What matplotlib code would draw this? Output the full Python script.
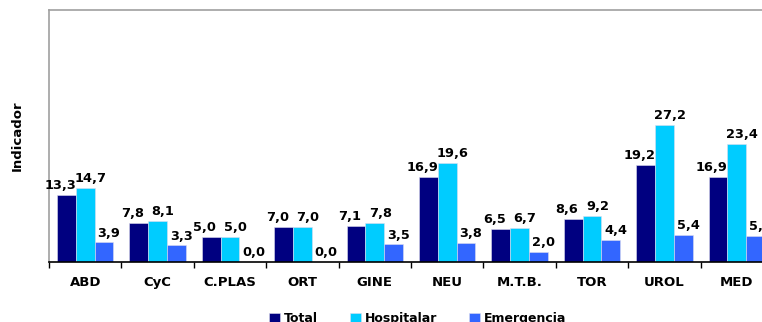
import matplotlib.pyplot as plt
import numpy as np

# Data
categories = ['ABD', 'CyC', 'C.PLAS', 'ORT', 'GINE', 'NEU', 'M.T.B.', 'TOR', 'UROL', 'MED']
total = [13.3, 7.8, 5.0, 7.0, 7.1, 16.9, 6.5, 8.6, 19.2, 16.9]
hospitalar = [14.7, 8.1, 5.0, 7.0, 7.8, 19.6, 6.7, 9.2, 27.2, 23.4]
emergencia = [3.9, 3.3, 0.0, 0.0, 3.5, 3.8, 2.0, 4.4, 5.4, 5.2]

# name, values, colour, horizontal nudge of the value label (points)
series = [('Total', total, '#000080', -4.5),
          ('Hospitalar', hospitalar, '#00CCFF', 4.0),
          ('Emergencia', emergencia, '#3366FF', 3.5)]

plt.rcParams['font.family'] = ['DejaVu Sans']

fig = plt.figure(figsize=(7.62, 3.22), dpi=100)
# the chart is cropped on the right in the original, so the axes run past the edge
ax = fig.add_axes([49 / 762, 1 - 262 / 322, 724 / 762, 252 / 322])

x = np.arange(len(categories))
w = 0.26
for i, (name, vals, col, dx) in enumerate(series):
    pos = x + (i - 1) * w
    ax.bar(pos, vals, w, color=col, label=name, edgecolor='#DDDDEE', linewidth=0.4)
    for xp, v in zip(pos, vals):
        ax.annotate(f'{v:.1f}'.replace('.', ','), (xp, v), xytext=(dx, 2),
                    textcoords='offset points', ha='center', va='bottom',
                    fontsize=9.3, fontweight='bold', color='black')

ax.set_xlim(-0.5, len(categories) - 0.5)
ax.set_ylim(0, 50)
ax.set_yticks([])

ax.set_xticks(x)
ax.set_xticklabels(categories, fontsize=9.5, fontweight='bold')
ax.tick_params(axis='x', which='major', length=0, pad=10)
ax.set_xticks(np.arange(len(categories) + 1) - 0.5, minor=True)
ax.tick_params(axis='x', which='minor', length=4, width=1, direction='out', color='black')

ax.spines['bottom'].set_color('black')
ax.spines['bottom'].set_linewidth(1.2)
for s in ['left', 'top', 'right']:
    ax.spines[s].set_color('#A0A0A0')
    ax.spines[s].set_linewidth(1.2)

ax.set_ylabel('Indicador', fontsize=9.5, fontweight='bold', labelpad=18)

fig.legend(loc='lower left', bbox_to_anchor=(258 / 762, -0.045), ncol=3,
           frameon=False, prop={'size': 9, 'weight': 'bold'},
           handlelength=0.85, handleheight=0.85, handletextpad=0.3, columnspacing=2.6)

fig.savefig('out.png', dpi=100)
